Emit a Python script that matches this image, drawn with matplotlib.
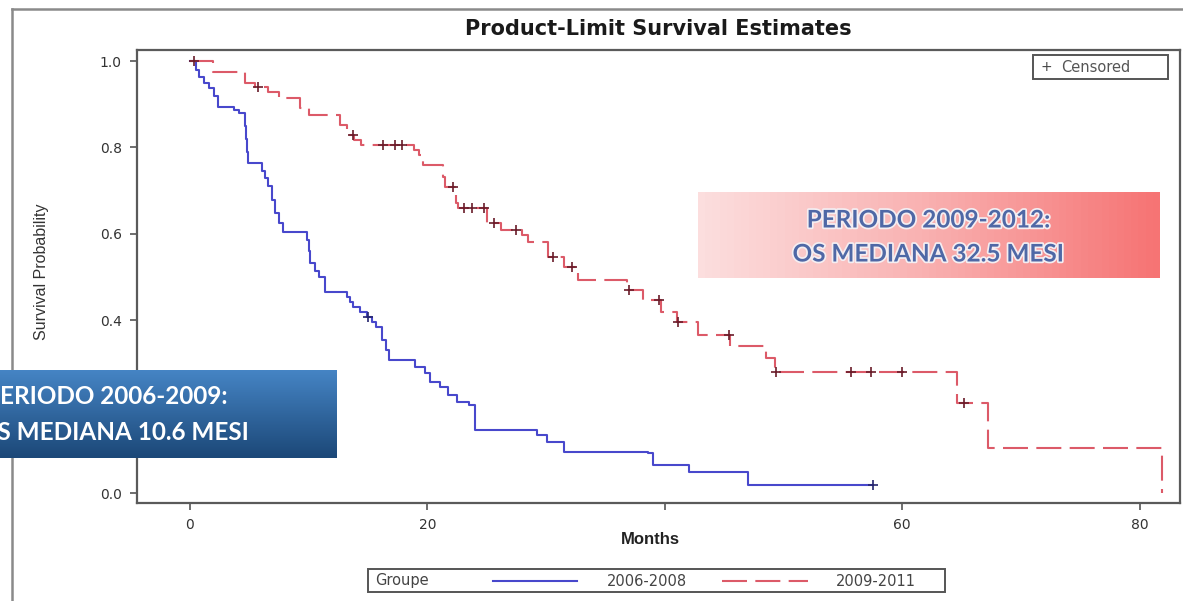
import numpy as np
import matplotlib
matplotlib.use("Agg")
import matplotlib.pyplot as plt
import matplotlib.patheffects as pe
from matplotlib.colors import LinearSegmentedColormap

# ---- Kaplan-Meier estimates (months, survival after each event) ----
blue_times = [0, 0.5, 0.8, 1.2, 1.6, 2.0, 2.4, 3.7, 4.1, 4.6, 4.7, 4.8, 4.9,
              6.1, 6.3, 6.6, 6.9, 7.2, 7.5, 7.8, 9.85, 10.0, 10.1, 10.5, 10.9,
              11.4, 13.2, 13.5, 13.7, 14.3, 14.9, 15.3, 15.7, 16.2, 16.5, 16.8,
              19.0, 19.8, 20.2, 21.1, 21.7, 22.5, 23.5, 24.0, 29.2, 30.1, 31.5,
              38.6, 39.0, 42.0, 47.0]
blue_surv = [1.0, 0.98, 0.963, 0.95, 0.937, 0.92, 0.894, 0.887, 0.88, 0.85,
             0.82, 0.79, 0.764, 0.745, 0.73, 0.71, 0.678, 0.648, 0.625, 0.604,
             0.586, 0.56, 0.532, 0.515, 0.5, 0.465, 0.454, 0.442, 0.43, 0.418,
             0.407, 0.396, 0.384, 0.354, 0.33, 0.308, 0.292, 0.278, 0.257,
             0.245, 0.227, 0.211, 0.204, 0.146, 0.134, 0.118, 0.095, 0.093,
             0.065, 0.049, 0.019]
blue_end = 57.5
blue_censored = [15.0, 57.5]

red_times = [0, 1.9, 4.6, 5.5, 6.6, 7.5, 9.3, 10.0, 12.6, 13.2, 13.8, 14.4,
             18.9, 19.3, 19.6, 21.3, 21.5, 22.4, 22.6, 25.0, 26.2, 28.0, 28.5,
             30.2, 31.5, 32.7, 36.8, 38.2, 39.7, 41.0, 42.8, 45.5, 48.5, 49.3,
             64.6, 67.2, 81.9]
red_surv = [1.0, 0.975, 0.95, 0.94, 0.928, 0.914, 0.891, 0.875, 0.852, 0.829,
            0.818, 0.806, 0.794, 0.782, 0.759, 0.731, 0.708, 0.671, 0.66,
            0.625, 0.609, 0.597, 0.58, 0.546, 0.523, 0.493, 0.47, 0.447, 0.42,
            0.396, 0.366, 0.34, 0.313, 0.28, 0.208, 0.104, 0.0]
red_end = 81.9
red_censored = [0.3, 5.7, 13.7, 16.3, 17.3, 17.9, 22.2, 23.1, 23.8, 24.8,
                25.6, 27.5, 30.6, 32.2, 37.0, 39.5, 41.1, 45.4, 49.4, 55.7,
                57.4, 60.0, 65.2]

group_title = "Groupe"
group_labels = ["2006-2008", "2009-2011"]
x_ticks = [0, 20, 40, 60, 80]
x_ticklabels = ["0", "20", "", "60", "80"]
y_ticks = [0.0, 0.2, 0.4, 0.6, 0.8, 1.0]
y_ticklabels = ["0.0", "0.2", "0.4", "0.6", "0.8", "1.0"]

BLUE = "#4848cc"
RED = "#dc5a68"
RED_MARK = "#6a1c2a"
BLUE_MARK = "#24246e"
DASH = (12, 4)


def step_xy(times, surv, end):
    x = list(times) + [end]
    y = list(surv) + [surv[-1]]
    return x, y


def surv_at(times, surv, t):
    i = np.searchsorted(times, t, side="right") - 1
    return surv[max(i, 0)]


W, H = 1183, 601
fig = plt.figure(figsize=(W / 100, H / 100), dpi=100)
fig.patch.set_facecolor("white")

ax = fig.add_axes([137 / W, 1 - 503 / H, (1180 - 137) / W, (503 - 50) / H])
ax.set_xlim(-4.46, 83.4)
ax.set_ylim(-0.023, 1.0255)

bx, by = step_xy(blue_times, blue_surv, blue_end)
ax.step(bx, by, where="post", color=BLUE, lw=1.5)
rx, ry = step_xy(red_times, red_surv, red_end)
ax.step(rx, ry, where="post", color=RED, lw=1.5, dashes=DASH)

ax.plot(blue_censored, [surv_at(blue_times, blue_surv, t) for t in blue_censored],
        "+", ms=7, mew=1.2, color=BLUE_MARK)
ax.plot(red_censored, [surv_at(red_times, red_surv, t) for t in red_censored],
        "+", ms=7, mew=1.2, color=RED_MARK)

for s in ax.spines.values():
    s.set_color("#5a5a5a")
    s.set_linewidth(1.6)
ax.set_xticks(x_ticks)
ax.set_xticklabels(x_ticklabels)
ax.set_yticks(y_ticks)
ax.set_yticklabels(y_ticklabels)
ax.tick_params(direction="out", length=5, width=1.2, color="#555555",
               labelsize=10, labelcolor="#333333", pad=6)

# ---- surrounding text, frames and legends (pixel coordinates) ----
ov = fig.add_axes([0, 0, 1, 1], zorder=5)
ov.patch.set_alpha(0)
ov.axis("off")

fig.text(658 / W, 1 - 29 / H, "Product-Limit Survival Estimates",
         ha="center", va="center", fontsize=15, fontweight="bold",
         color="#1a1a1a")
fig.text(42 / W, 1 - 272 / H, "Survival Probability", rotation=90,
         ha="center", va="center", fontsize=11.5, color="#333333",
         family="Liberation Sans")
fig.text(650 / W, 1 - 540 / H, "Months", ha="center", va="center",
         fontsize=12, fontweight="bold", color="#222222",
         family="Liberation Sans")

# outer frame
ov.plot([12, 1183], [9, 9], color="#8a8a8a", lw=1.8)
ov.plot([12, 12], [9, 601], color="#8a8a8a", lw=1.8)

# censored key
ov.add_patch(plt.Rectangle((1033, 55), 135, 24, fill=False,
                           ec="#555555", lw=1.4))
ov.text(1046, 67, "+", ha="center", va="center", fontsize=10, color="#444444")
ov.text(1061, 67, "Censored", ha="left", va="center", fontsize=10.5,
        color="#555555")

# group legend
ov.add_patch(plt.Rectangle((368, 569), 577, 23, fill=False,
                           ec="#555555", lw=1.4))
ov.text(375, 581, group_title, ha="left", va="center", fontsize=10.5,
        color="#444444")
ov.plot([493, 577], [581, 581], color=BLUE, lw=1.5)
ov.text(647, 581, group_labels[0], ha="center", va="center", fontsize=10.5,
        color="#444444")
ov.plot([722, 808], [581, 581], color=RED, lw=1.5, dashes=DASH)
ov.text(876, 581, group_labels[1], ha="center", va="center", fontsize=10.5,
        color="#444444")

# annotation boxes
blue_cmap = LinearSegmentedColormap.from_list("bb", ["#4584c4", "#1c4878"])
grad_v = np.linspace(0, 1, 64).reshape(-1, 1)
ov.imshow(grad_v, cmap=blue_cmap, extent=(-140, 337, 458, 370),
          origin="upper", aspect="auto", zorder=2)
red_cmap = LinearSegmentedColormap.from_list("rb", ["#fcdede", "#f9b0b0",
                                                    "#f67474"])
grad_h = np.linspace(0, 1, 64).reshape(1, -1)
ov.imshow(grad_h, cmap=red_cmap, extent=(698, 1160, 278, 192),
          origin="upper", aspect="auto", zorder=2)

FS = 17.5
ov.text(106, 397, "PERIODO 2006-2009:", ha="center", va="center",
        fontsize=FS, fontweight="bold", color="white", family="Lato",
        zorder=3)
ov.text(113, 433, "OS MEDIANA 10.6 MESI", ha="center", va="center",
        fontsize=FS, fontweight="bold", color="white", family="Lato",
        zorder=3)
glow = [pe.withStroke(linewidth=2.5, foreground="#f4eef2")]
ov.text(928, 220, "PERIODO 2009-2012:", ha="center", va="center",
        fontsize=FS, fontweight="bold", color="#4f68a6", family="Lato",
        zorder=3, path_effects=glow)
ov.text(928, 254, "OS MEDIANA 32.5 MESI", ha="center", va="center",
        fontsize=FS, fontweight="bold", color="#4f68a6", family="Lato",
        zorder=3, path_effects=glow)

ov.set_xlim(0, W)
ov.set_ylim(H, 0)

fig.savefig("out.png", dpi=100, facecolor="white")
